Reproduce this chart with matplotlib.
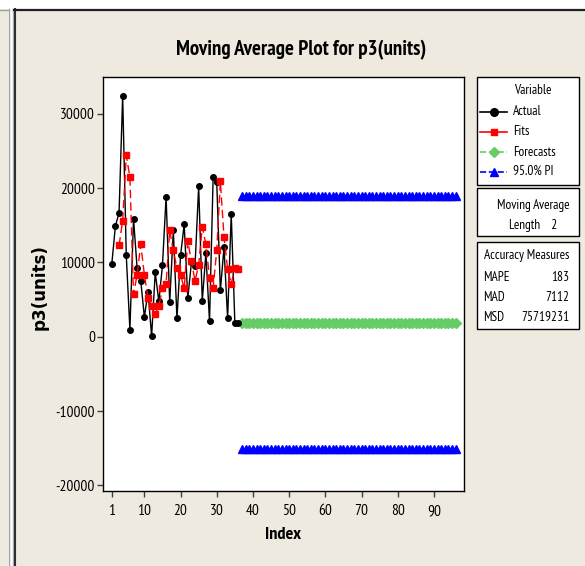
import matplotlib
matplotlib.use("Agg")
import matplotlib.pyplot as plt
from matplotlib.patches import Rectangle
from matplotlib import font_manager as fm

# ---------------- data ----------------
actual_index = list(range(1, 37))
actual = [9800, 14940, 16650, 32430, 10940, 940, 15880, 9190, 7540, 2650,
          6060, 90, 8660, 4750, 9600, 18840, 4670, 14310, 2470, 10940,
          15120, 5200, 10000, 9560, 20230, 4850, 11210, 2060, 21440, 20770,
          6230, 12020, 2470, 16510, 1880, 1880]
fits_index = list(range(3, 37))
fits = [12290, 15610, 24400, 21490, 5750, 8340, 12420, 8340, 5200, 4130,
        3050, 4170, 6500, 7130, 14310, 11610, 9250, 8340, 6500, 12880,
        10140, 7540, 9650, 14800, 12420, 7940, 6550, 11670, 20900, 13460,
        9150, 7130, 9250, 9110]
forecast_index = list(range(37, 97))
forecast_value = 1880
pi_upper_value = 18880
pi_lower_value = -15120
x_ticks = [1, 10, 20, 30, 40, 50, 60, 70, 80, 90]
y_ticks = [-20000, -10000, 0, 10000, 20000, 30000]
legend_labels = ["Actual", "Fits", "Forecasts", "95.0% PI"]
accuracy_names = ["MAPE", "MAD", "MSD"]
accuracy_values = ["183", "7112", "75719231"]
ma_length = 2

W, H = 585, 566
BG = "#EEEAE0"

available = set(f.name for f in fm.fontManager.ttflist)
candidates = ["PT Sans Narrow", "Roboto Condensed", "Archivo Narrow",
              "Fira Sans Condensed", "Liberation Sans Narrow",
              "Open Sans Condensed", "Encode Sans Condensed", "Ubuntu Condensed",
              "IBM Plex Sans Condensed", "Asap Condensed"]
narrow_font = next((c for c in candidates if c in available), "DejaVu Sans")
NARROW = [narrow_font, "DejaVu Sans"]

fig = plt.figure(figsize=(W / 100, H / 100), dpi=100)
fig.patch.set_facecolor("white")
renderer = fig.canvas.get_renderer()


def fit_width(t, target_px, vertical=False):
    bb = t.get_window_extent(renderer=renderer)
    cur = bb.height if vertical else bb.width
    if cur > 0:
        t.set_fontsize(t.get_fontsize() * target_px / cur)
    return t


ov = fig.add_axes([0, 0, 1, 1], zorder=0)
ov.set_xlim(0, W)
ov.set_ylim(H, 0)
ov.axis("off")
ov.add_patch(Rectangle((0, 9), 8, H, facecolor=BG, edgecolor="none"))
ov.add_patch(Rectangle((14, 9.5), W, H, facecolor=BG, edgecolor="none"))
ov.plot([8.5, 8.5], [9, H], color="#A0A0A0", lw=1)
ov.plot([13, 13], [9, H], color="#B0B0B0", lw=1)
ov.plot([14.5, 14.5], [9, H], color="#303030", lw=1.5)
ov.plot([14, W], [9.5, 9.5], color="#202020", lw=1.6)
ov.plot([0, 8], [9.5, 9.5], color="#A0A0A0", lw=1)

# ---------------- main axes ----------------
L, R, T, B = 103.3, 464.3, 76.7, 491.3
ax = fig.add_axes([L / W, 1 - B / H, (R - L) / W, (B - T) / H], zorder=2)
ax.set_facecolor("white")

for val in (pi_upper_value, pi_lower_value):
    ax.plot(forecast_index, [val] * len(forecast_index), color="#0000FF",
            ls="--", lw=1, marker="^", ms=5.8, mec="#0000FF", mfc="#0000FF",
            zorder=3)
ax.plot(forecast_index, [forecast_value] * len(forecast_index), color="#66CC66",
        ls="--", lw=1, marker="D", ms=4.8, mec="#66CC66", mfc="#66CC66", zorder=3)
ax.plot(actual_index, actual, color="black", lw=1, marker="o", ms=4.0,
        mec="black", mfc="black", zorder=4)
ax.plot(fits_index, fits, color="#FF0000", lw=1, ls=(0, (6, 3)), marker="s",
        ms=3.8, mec="#FF0000", mfc="#FF0000", zorder=5)

ax.set_xlim(-1.35, 98.4)
ax.set_ylim(-20800, 35000)
ax.set_xticks(x_ticks)
ax.set_yticks(y_ticks)
ax.set_xticklabels([str(t) for t in x_ticks], family=NARROW, fontsize=11)
ax.set_yticklabels([str(t) for t in y_ticks], family=NARROW, fontsize=11)
ax.tick_params(direction="out", length=4, width=1, color="#404040", pad=2)
ax.tick_params(axis="x", pad=5)
for sp in ax.spines.values():
    sp.set_linewidth(1)
    sp.set_color("black")

# size tick labels so that "30000" is ~35 px wide
probe = ov.text(0, 0, "30000", family=NARROW, fontsize=11)
fit_width(probe, 35)
tick_fs = probe.get_fontsize()
probe.remove()
for lab in ax.get_xticklabels() + ax.get_yticklabels():
    lab.set_fontsize(tick_fs)

# ---------------- titles ----------------
t = ov.text(301, 50, "Moving Average Plot for p3(units)", ha="center",
            va="center", family=NARROW, fontsize=15, fontweight="bold")
fit_width(t, 251)
t = ov.text(283, 535, "Index", ha="center", va="center", family=NARROW,
            fontsize=13, fontweight="bold")
fit_width(t, 36)
t = ov.text(40, 287, "p3(units)", ha="center", va="center", rotation=90,
            family=["DejaVu Sans"], fontsize=10, fontweight="bold")
fit_width(t, 86, vertical=True)

# ---------------- legend boxes ----------------
bx0, bx1 = 476.7, 579
for (y0, y1) in [(77.3, 185), (188.3, 235.7), (241.7, 329)]:
    ov.add_patch(Rectangle((bx0, y0), bx1 - bx0, y1 - y0, facecolor="white",
                           edgecolor="black", lw=1, zorder=3))

probe = ov.text(0, 0, "Accuracy Measures", family=NARROW, fontsize=10)
fit_width(probe, 86)
fs = probe.get_fontsize()
probe.remove()

ov.text(532.7, 90.7, "Variable", ha="center", va="center", family=NARROW,
        fontsize=fs, zorder=4)
rows = [111.7, 131.7, 152, 171.7]
styles = [
    dict(color="black", ls="-", marker="o", ms=5.5),
    dict(color="#FF0000", ls="-", marker="s", ms=5),
    dict(color="#66CC66", ls="--", marker="D", ms=5),
    dict(color="#0000FF", ls="--", marker="^", ms=6),
]
for yy, lab, st in zip(rows, legend_labels, styles):
    ov.plot([480, 507], [yy, yy], color=st["color"], ls=st["ls"], lw=1.2, zorder=4)
    ov.plot([493.5], [yy], marker=st["marker"], ms=st["ms"], color=st["color"],
            mec=st["color"], zorder=5)
    ov.text(513, yy, lab, ha="left", va="center", family=NARROW, fontsize=fs,
            zorder=4)

ov.text(533, 205, "Moving Average", ha="center", va="center", family=NARROW,
        fontsize=fs, zorder=4)
ov.text(533, 225, "Length    %d" % ma_length, ha="center", va="center",
        family=NARROW, fontsize=fs, zorder=4)

ov.text(527, 255, "Accuracy Measures", ha="center", va="center", family=NARROW,
        fontsize=fs, zorder=4)
for yy, nm, val in zip([277.3, 297.3, 317.3], accuracy_names, accuracy_values):
    ov.text(482.7, yy, nm, ha="left", va="center", family=NARROW, fontsize=fs,
            zorder=4)
    ov.text(569.5, yy, val, ha="right", va="center", family=NARROW, fontsize=fs,
            zorder=4)

fig.savefig("out.png", dpi=100, facecolor=fig.get_facecolor())
